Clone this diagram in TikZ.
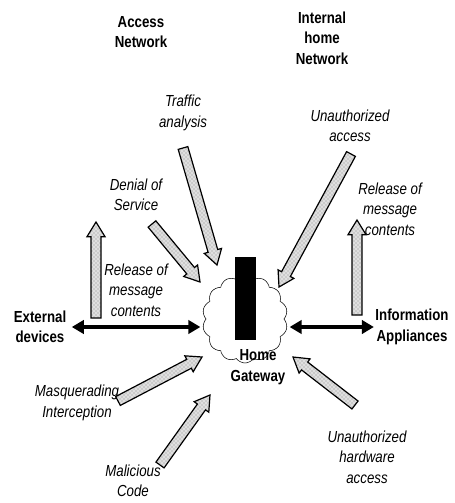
\documentclass[tikz,border=0pt]{standalone}
\usepackage{fontspec}
\setmainfont[FakeStretch=0.83]{Liberation Sans}
\usetikzlibrary{positioning,arrows.meta,shapes.symbols,patterns,calc}

\begin{document}
\begin{tikzpicture}[x=0.75pt, y=-0.75pt, font=\fontsize{12}{15.4}\selectfont,
  lbl/.style={align=center, inner sep=1pt},
  attack/.style={lbl, font=\fontsize{12}{15.4}\selectfont\itshape},
  place/.style={lbl, font=\fontsize{12}{15.4}\selectfont\bfseries},
  hatcharrow/.style={draw, line width=0.9pt, preaction={fill=gray!25}, pattern=crosshatch dots, pattern color=gray!90},
  dblarrow/.style={{Triangle[length=9pt,width=10pt]}-{Triangle[length=9pt,width=10pt]}, line width=2.5pt}]
\useasboundingbox (0,0) rectangle (454,503);
% pixel grid of the scan, y runs downwards
\node[place] (acc) at (141,32) {Access\\Network};
\node[place] (inh) at (322,38) {Internal\\home\\Network};
\node[place] (ext) at (40,327) {External\\devices};
\node[place] (inf) at (412,327) {Information\\Appliances};
\foreach \n/\p/\t in {traf/{(183,113)}/{Traffic\\analysis}, unac/{(350,126)}/{Unauthorized\\access}, dos/{(136,195)}/{Denial of\\Service}, relR/{(390,209)}/{Release of\\message\\contents}, relL/{(136,290)}/{Release of\\message\\contents}, masq/{(77,403)}/{Masquerading\\Interception}, mal/{(133,481)}/{Malicious\\Code}, hw/{(367,457)}/{Unauthorized\\hardware\\access}}
  { \node[attack] (\n) at \p {\t}; }
\node[cloud, draw, thin, cloud puffs=14, cloud puff arc=110, aspect=1, minimum width=64pt, minimum height=66pt, inner sep=0] (gw) at (245,319) {};
\node[fill=black, inner sep=0, minimum width=15.75pt, minimum height=62.25pt] (box) at (245.5,298.5) {};
\node[place] (gwl) at (258,367) {Home\\Gateway};
\draw[dblarrow, shorten <=3pt, shorten >=4pt] (ext.east) -- (ext.east -| gw.west);
\draw[dblarrow, shorten <=4pt] (inf.west -| gw.east) -- (inf.west);
\foreach \n/\s/\t in {relL/{96,318}/{96,222}, relR/{357,315}/{357,220}, traf/{183,148}/{217,265}, dos/{152,224}/{200,282}, unac/{351,154}/{279,287}, masq/{118,401}/{202,357}, mal/{160,465}/{210,395}, hw/{355,405}/{293,357}}
  { \coordinate (\n-s) at (\s); \coordinate (\n-t) at (\t); \coordinate (\n-h) at ($(\n-t)!11pt!(\n-s)$);
    \draw[hatcharrow] ($(\n-s)!3.75pt!90:(\n-t)$) -- ($(\n-h)!3.75pt!90:(\n-t)$) -- ($(\n-h)!6.75pt!90:(\n-t)$) -- (\n-t)
      -- ($(\n-h)!6.75pt!-90:(\n-t)$) -- ($(\n-h)!3.75pt!-90:(\n-t)$) -- ($(\n-s)!3.75pt!-90:(\n-t)$) -- cycle; }
\end{tikzpicture}
\end{document}
